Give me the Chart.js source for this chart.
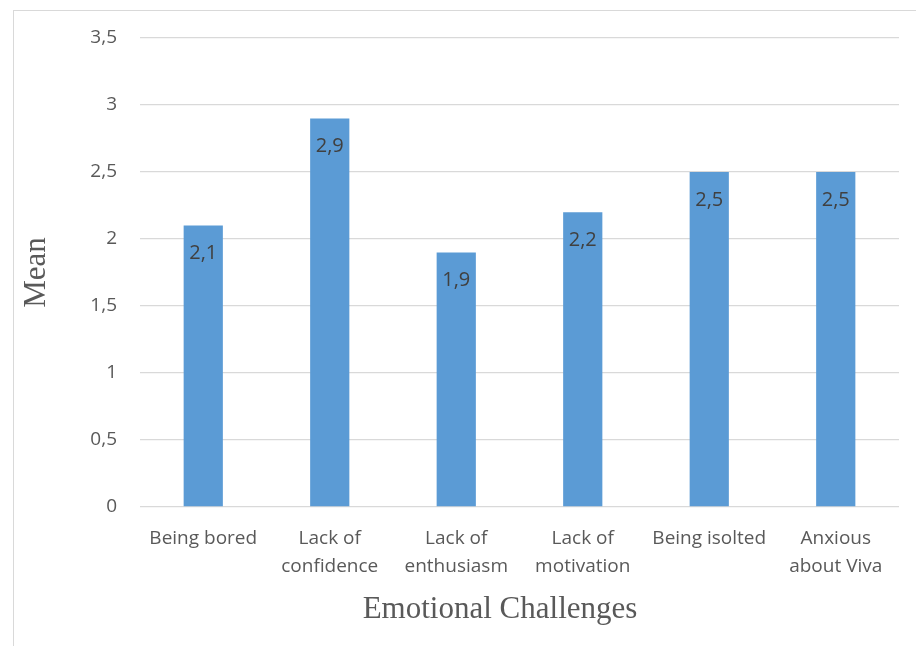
<!DOCTYPE html>
<html>
<head>
<meta charset="utf-8">
<script src="https://cdn.jsdelivr.net/npm/chart.js@4"></script>
<style>
  html,body{margin:0;padding:0;background:#fff;}
  #wrap{position:relative;width:916px;height:646px;overflow:hidden;}
  #frame{position:absolute;left:13px;top:10px;width:1000px;height:1000px;border-left:1px solid #d9d9d9;border-top:1px solid #d9d9d9;}
  canvas{position:absolute;left:0;top:0;}
</style>
</head>
<body>
<div id="wrap">
  <div id="frame"></div>
  <canvas id="c" width="916" height="646"></canvas>
</div>
<script>
const categories=[['Being bored'],['Lack of','confidence'],['Lack of','enthusiasm'],['Lack of','motivation'],['Being isolted'],['Anxious','about Viva']];
const means=[2.1,2.9,1.9,2.2,2.5,2.5];
const yTicks=[0,0.5,1,1.5,2,2.5,3,3.5];
const xTitle='Emotional Challenges';
const yTitle='Mean';

const comma=v=>String(v).replace('.',',');
const tickFont={family:'"Open Sans", sans-serif',size:19,lineHeight:28/19};

// value labels just under the top of each bar, plus the two axis titles
const annotate={
  id:'annotate',
  afterDatasetsDraw(chart){
    const ctx=chart.ctx, area=chart.chartArea;
    ctx.save();
    ctx.fillStyle='#404040';
    ctx.font='20px "Open Sans", sans-serif';
    ctx.textAlign='center';
    ctx.textBaseline='middle';
    chart.getDatasetMeta(0).data.forEach((bar,i)=>{
      ctx.fillText(comma(means[i]),bar.x,bar.y+28);
    });
    ctx.fillStyle='#595959';
    ctx.font='31px "Liberation Serif", serif';
    ctx.fillText(xTitle,500,610);
    ctx.translate(37,(area.top+area.bottom)/2);
    ctx.rotate(-Math.PI/2);
    ctx.fillText(yTitle,0,0);
    ctx.restore();
  }
};

new Chart(document.getElementById('c'),{
  type:'bar',
  data:{labels:categories,datasets:[{data:means,backgroundColor:'#5b9bd5',barPercentage:0.62,categoryPercentage:0.5}]},
  options:{
    responsive:false,animation:false,
    layout:{padding:{top:38,right:17,left:0,bottom:0}},
    plugins:{legend:{display:false},tooltip:{enabled:false}},
    scales:{
      x:{
        grid:{display:false},border:{display:false},
        ticks:{color:'#595959',font:tickFont,padding:10,maxRotation:0,autoSkip:false},
        afterFit(s){s.height=646-507;}
      },
      y:{
        min:0,max:3.5,
        afterBuildTicks(s){s.ticks=yTicks.map(v=>({value:v}));},
        grid:{color:'#d9d9d9',lineWidth:1.3,drawTicks:false},border:{display:false},
        ticks:{color:'#595959',font:{family:'"Open Sans", sans-serif',size:19},padding:23,callback:v=>comma(v)},
        afterFit(s){s.width=140;}
      }
    }
  },
  plugins:[annotate]
});
</script>
</body>
</html>
